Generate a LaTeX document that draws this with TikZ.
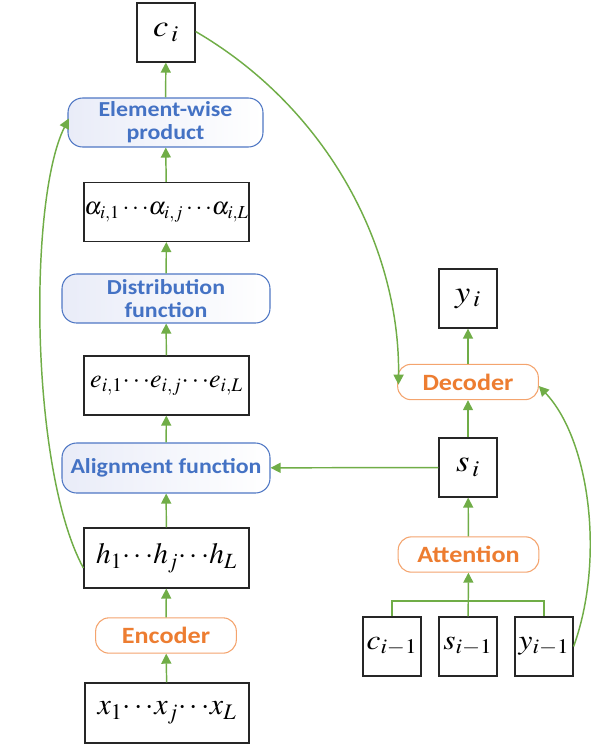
\documentclass[tikz,border=0pt]{standalone}
\usepackage{mathptmx}
\usepackage{graphicx}
\usepackage{fontspec}
\newfontfamily\lblfont{Carlito}[FakeStretch=1.12]
\usetikzlibrary{arrows.meta}
\definecolor{grn}{HTML}{70AD47}
\definecolor{bluetxt}{HTML}{4472C4}
\definecolor{bluedraw}{HTML}{4F77C4}
\definecolor{bluefill}{HTML}{E9ECF8}
\definecolor{orng}{HTML}{ED7D31}
\definecolor{orngdraw}{HTML}{F4A46E}
\newcommand{\mm}[2]{{\fontsize{#1}{#1}\selectfont\scalebox{1.12}[1]{$#2$}}}
\newcommand{\mw}[2]{{\fontsize{#1}{#1}\selectfont$#2$}}
\newcommand{\dd}{\mathord{\cdots}}
\tikzset{
  mbox/.style={draw=black!85, line width=0.9pt, fill=white, inner sep=0pt, minimum width=43.5pt, minimum height=44.25pt},
  wbox/.style={mbox, minimum width=123.75pt, minimum height=44.25pt},
  bluebox/.style={draw=bluedraw, line width=0.8pt, rounded corners=11pt, left color=bluefill, middle color=white, right color=white, text=bluetxt, inner sep=0pt, align=center, font=\lblfont\bfseries\fontsize{16}{17.5}\selectfont},
  orbox/.style={draw=orngdraw, line width=0.8pt, rounded corners=10pt, fill=white, text=orng, inner sep=0pt, minimum width=105.5pt, minimum height=26.5pt, font=\lblfont\bfseries\fontsize{17.5}{19}\selectfont},
  arr/.style={draw=grn, line width=1.1pt, -{Triangle[width=7.5pt,length=7.5pt]}},
  ln/.style={draw=grn, line width=1.1pt},
}
\begin{document}
\begin{tikzpicture}[x=0.75pt,y=-0.75pt]
\useasboundingbox (0,0) rectangle (597,747);
% left column
\node[mbox] (ci) at (166,32.5) {\mm{23}{c_{\,i}}};
\node[bluebox, minimum width=146.25pt, minimum height=36.75pt] (ew) at (165.5,122.5) {Element-wise\\product};
\node[wbox] (al) at (166.5,212) {\mw{18.5}{\alpha_{i,1}\,\dd\alpha_{i,j}\,\dd\alpha_{i,L}}};
\node[bluebox, minimum width=156pt, minimum height=36.75pt] (df) at (166,298.5) {Distribution\\function};
\node[wbox] (ee) at (166.5,385.5) {\mw{19.5}{e_{i,1}\dd e_{i,j}\dd e_{i,L}}};
\node[bluebox, minimum width=156pt, minimum height=37.5pt] (af) at (166,468) {Alignment function};
\node[wbox, minimum height=45pt] (hh) at (166.5,558) {\mw{22}{h_1\dd h_j\dd h_L}};
\node[orbox] (enc) at (166,635.5) {Encoder};
\node[wbox, minimum width=123pt, minimum height=45pt] (xx) at (167,713) {\mw{22.5}{x_1\dd x_j\dd x_L}};
% right column
\node[mbox] (yi) at (468,298.5) {\mm{23}{y_{\,i}}};
\node[orbox] (dec) at (468,382) {Decoder};
\node[mbox] (si) at (468,467.5) {\mm{23}{s_{\,i}}};
\node[orbox] (att) at (468.5,554.5) {Attention};
\node[mbox] (cp) at (392,646.5) {\mm{21}{c_{i-1}}};
\node[mbox] (sp) at (468,646.5) {\mm{21}{s_{i-1}}};
\node[mbox] (yp) at (544,646.5) {\mm{21}{y_{i-1}}};
% vertical arrows
\draw[arr] (ew) -- (ci);
\draw[arr] (al) -- (ew);
\draw[arr] (df) -- (al);
\draw[arr] (ee) -- (df);
\draw[arr] (af) -- (ee);
\draw[arr] (hh) -- (af);
\draw[arr] (enc) -- (hh);
\draw[arr] (xx) -- (enc);
\draw[arr] (dec) -- (yi);
\draw[arr] (si) -- (dec);
\draw[arr] (att) -- (si);
\draw[arr] (sp) -- (att);
\draw[arr] (si) -- (af);
% branch
\coordinate (bl) at (392,601);
\coordinate (br) at (544,601);
\draw[ln] (cp.north) -- (bl) -- (br) -- (yp.north);
% curves
\draw[arr] ([yshift=-7.5pt]hh.west) .. controls (30,470) and (28,200) .. ([xshift=1pt,yshift=3pt]ew.west);
\draw[arr] ([yshift=0.75pt]ci.east) .. controls (330,110) and (400,250) .. ([xshift=1pt,yshift=-2pt]dec.west);
\draw[arr] (yp.east) .. controls (605,560) and (590,440) .. ([yshift=-3pt]dec.east);
\end{tikzpicture}
\end{document}
